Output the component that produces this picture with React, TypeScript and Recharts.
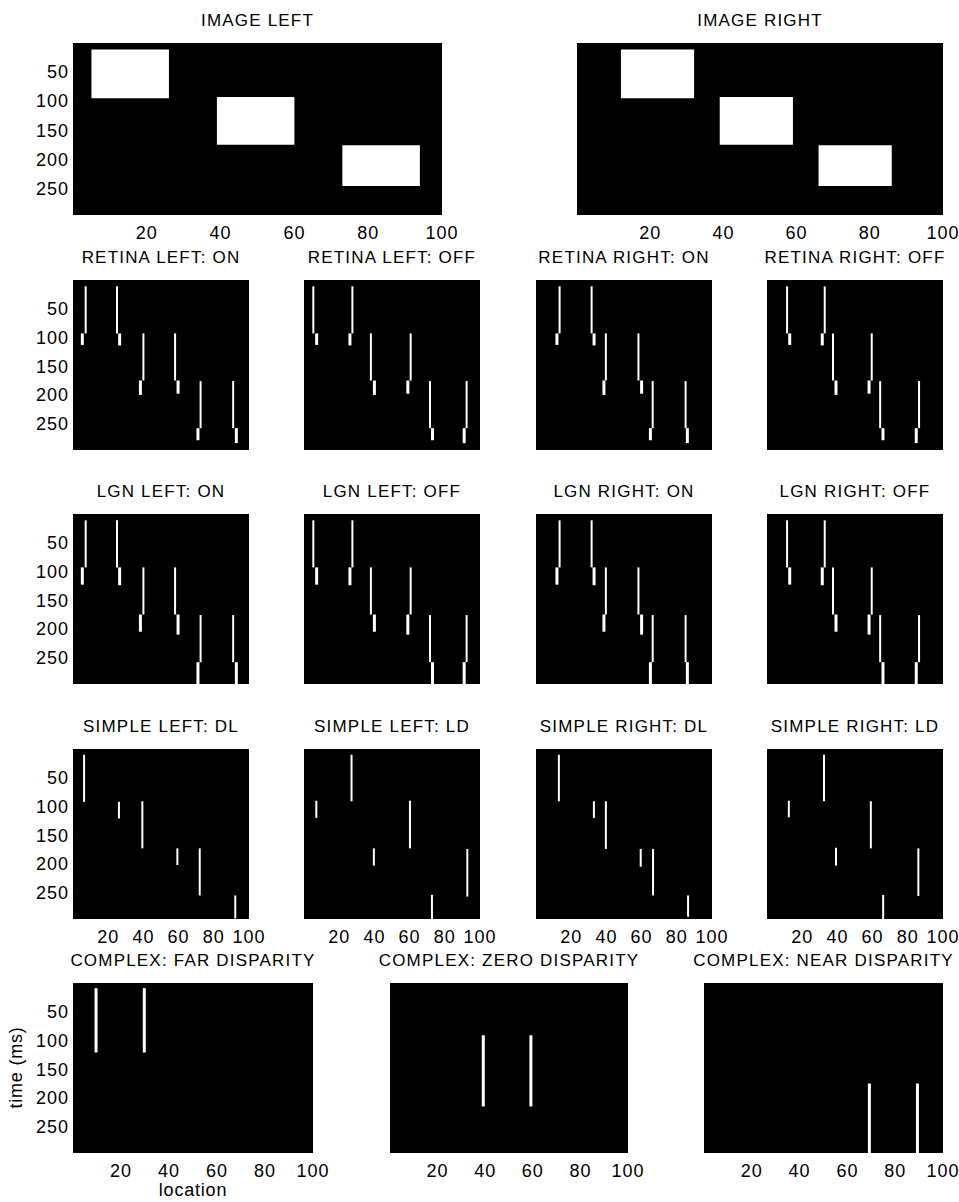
import React from 'react';
import { ScatterChart, XAxis, YAxis, CartesianGrid, ReferenceLine, ReferenceArea } from 'recharts';

// axis ticks
const locationTicks = [20, 40, 60, 80, 100];
const timeTicks = [50, 100, 150, 200, 250];

// stimulus: bright bars in each eye (location range, time range)
const imageLeftX0 = [5, 39, 73];
const imageLeftX1 = [26, 60, 94];
const imageRightX0 = [12, 39, 66];
const imageRightX1 = [32, 59, 86];
const imageT0 = [11, 93, 176];
const imageT1 = [95, 175, 246];

// edge responses: onset / offset and transient tail end (ms)
const edgeOnset = [11, 11, 93, 93, 176, 176];
const edgeOffset = [93, 93, 175, 175, 258, 258];
const retinaTailEnd = [113, 114, 200, 198, 279, 284];
const lgnTailEnd = [123, 124, 205, 210, 296, 296];

const leftOnX = [7.2, 25, 40, 58, 72.5, 91];
const leftOnTailX = [5.3, 26.5, 38.3, 59.7, 71, 92.8];
const leftOffX = [5.3, 27.5, 38, 60.6, 71.6, 92.4];
const leftOffTailX = [7.2, 26.1, 40, 59, 73, 91];
const rightOnX = [13.4, 31.6, 39.7, 58.2, 66.3, 85];
const rightOnTailX = [11.9, 33, 38.6, 60, 65, 86];
const rightOffX = [11.4, 32.8, 37.5, 59.5, 64.3, 86.4];
const rightOffTailX = [12.9, 31.4, 39.2, 58, 65.9, 84.8];

// simple cells
const simpleLeftDLX = [6.3, 26.1, 39.4, 59.3, 72, 92.2];
const simpleLeftDLT0 = [10, 92, 91, 173, 173, 255];
const simpleLeftDLT1 = [92, 121, 173, 202, 255, 295];
const simpleLeftLDX = [7, 27, 39.7, 60.2, 72.7, 92.8];
const simpleLeftLDT0 = [90, 10, 173, 90, 254, 174];
const simpleLeftLDT1 = [120, 91, 203, 173, 296, 257];
const simpleRightDLX = [13, 32.9, 39.7, 59.5, 66.5, 86.4];
const simpleRightDLT0 = [10, 91, 91, 174, 174, 255];
const simpleRightDLT1 = [91, 120, 174, 205, 255, 292];
const simpleRightLDX = [12.4, 32.4, 39.2, 59, 66, 86];
const simpleRightLDT0 = [90, 10, 172, 91, 254, 173];
const simpleRightLDT1 = [119, 91, 203, 173, 296, 256];

// complex cells
const complexFarX = [9.6, 29.7];
const complexFarT0 = [9, 9];
const complexFarT1 = [121, 121];
const complexZeroX = [39.2, 59.2];
const complexZeroT0 = [91, 91];
const complexZeroT1 = [215, 215];
const complexNearX = [69.2, 89.3];
const complexNearT0 = [175, 175];
const complexNearT1 = [296, 296];

type Seg = { x: number; t0: number; t1: number; w: number };
type Box = { x0: number; x1: number; t0: number; t1: number };

const edgeSegs = (xs: number[], tailXs: number[], tailEnd: number[]): Seg[] =>
  xs.flatMap((x, i) => [
    { x, t0: edgeOnset[i], t1: edgeOffset[i], w: 2 },
    { x: tailXs[i], t0: edgeOffset[i], t1: tailEnd[i], w: 3 },
  ]);

const barSegs = (xs: number[], t0: number[], t1: number[], w: number): Seg[] =>
  xs.map((x, i) => ({ x, t0: t0[i], t1: t1[i], w }));

const boxes = (x0: number[], x1: number[], t0: number[], t1: number[]): Box[] =>
  x0.map((x, i) => ({ x0: x, x1: x1[i], t0: t0[i], t1: t1[i] }));

const FONT = '"Liberation Sans", Arial, Helvetica, sans-serif';
const ML = 70;
const MT = 10;
const MB = 40;
const MR = 30;

interface PanelProps {
  title: string;
  left: number;
  top: number;
  width: number;
  height: number;
  segs?: Seg[];
  rects?: Box[];
  showX?: boolean;
  showY?: boolean;
}

const tickStyle = { fill: '#000', fontSize: 18, letterSpacing: 1, fontFamily: FONT };

const Panel: React.FC<PanelProps> = ({ title, left, top, width, height, segs = [], rects = [], showX, showY }) => (
  <>
    <div
      style={{
        position: 'absolute',
        left: left + width / 2 - 150,
        top: top - 32,
        width: 300,
        textAlign: 'center',
        fontSize: 17,
        letterSpacing: 1.2,
        fontFamily: FONT,
        color: '#000',
        whiteSpace: 'nowrap',
      }}
    >
      {title}
    </div>
    <div style={{ position: 'absolute', left: left - ML, top: top - MT }}>
      <ScatterChart
        width={ML + width + MR}
        height={MT + height + MB}
        margin={{ top: MT, right: MR, bottom: 0, left: 0 }}
      >
        <CartesianGrid fill="#000" fillOpacity={1} horizontal={false} vertical={false} stroke="none" />
        <XAxis
          type="number"
          dataKey="x"
          domain={[0, 100]}
          allowDataOverflow
          ticks={locationTicks}
          interval={0}
          height={MB}
          axisLine={false}
          tickLine={false}
          tickSize={0}
          tickMargin={11}
          tick={showX ? tickStyle : false}
        />
        <YAxis
          type="number"
          dataKey="t"
          domain={[0, 296]}
          allowDataOverflow
          reversed
          ticks={timeTicks}
          interval={0}
          width={ML}
          axisLine={false}
          tickLine={false}
          tickSize={0}
          tickMargin={4}
          tick={showY ? tickStyle : false}
        />
        {rects.map((r, i) => (
          <ReferenceArea
            key={`r${i}`}
            x1={r.x0}
            x2={r.x1}
            y1={r.t0}
            y2={r.t1}
            fill="#fff"
            fillOpacity={1}
            stroke="none"
            ifOverflow="hidden"
          />
        ))}
        {segs.map((s, i) => (
          <ReferenceLine
            key={`s${i}`}
            segment={[{ x: s.x, y: s.t0 }, { x: s.x, y: s.t1 }]}
            stroke="#fff"
            strokeWidth={s.w}
            ifOverflow="hidden"
          />
        ))}
      </ScatterChart>
    </div>
  </>
);

const COL4 = [73, 304, 536, 767];
const W4 = 176;
const H = 170;

export default function App() {
  return (
    <div
      style={{
        position: 'absolute',
        left: 0,
        top: 0,
        width: 959,
        height: 1202,
        background: '#fff',
        fontFamily: FONT,
        overflow: 'hidden',
      }}
    >
      <Panel title="IMAGE LEFT" left={73} top={43} width={369} height={172} showX showY
        rects={boxes(imageLeftX0, imageLeftX1, imageT0, imageT1)} />
      <Panel title="IMAGE RIGHT" left={577} top={43} width={366} height={172} showX
        rects={boxes(imageRightX0, imageRightX1, imageT0, imageT1)} />

      <Panel title="RETINA LEFT: ON" left={COL4[0]} top={280} width={W4} height={H} showY
        segs={edgeSegs(leftOnX, leftOnTailX, retinaTailEnd)} />
      <Panel title="RETINA LEFT: OFF" left={COL4[1]} top={280} width={W4} height={H}
        segs={edgeSegs(leftOffX, leftOffTailX, retinaTailEnd)} />
      <Panel title="RETINA RIGHT: ON" left={COL4[2]} top={280} width={W4} height={H}
        segs={edgeSegs(rightOnX, rightOnTailX, retinaTailEnd)} />
      <Panel title="RETINA RIGHT: OFF" left={COL4[3]} top={280} width={W4} height={H}
        segs={edgeSegs(rightOffX, rightOffTailX, retinaTailEnd)} />

      <Panel title="LGN LEFT: ON" left={COL4[0]} top={514} width={W4} height={H} showY
        segs={edgeSegs(leftOnX, leftOnTailX, lgnTailEnd)} />
      <Panel title="LGN LEFT: OFF" left={COL4[1]} top={514} width={W4} height={H}
        segs={edgeSegs(leftOffX, leftOffTailX, lgnTailEnd)} />
      <Panel title="LGN RIGHT: ON" left={COL4[2]} top={514} width={W4} height={H}
        segs={edgeSegs(rightOnX, rightOnTailX, lgnTailEnd)} />
      <Panel title="LGN RIGHT: OFF" left={COL4[3]} top={514} width={W4} height={H}
        segs={edgeSegs(rightOffX, rightOffTailX, lgnTailEnd)} />

      <Panel title="SIMPLE LEFT: DL" left={COL4[0]} top={749} width={W4} height={H} showX showY
        segs={barSegs(simpleLeftDLX, simpleLeftDLT0, simpleLeftDLT1, 2)} />
      <Panel title="SIMPLE LEFT: LD" left={COL4[1]} top={749} width={W4} height={H} showX
        segs={barSegs(simpleLeftLDX, simpleLeftLDT0, simpleLeftLDT1, 2)} />
      <Panel title="SIMPLE RIGHT: DL" left={COL4[2]} top={749} width={W4} height={H} showX
        segs={barSegs(simpleRightDLX, simpleRightDLT0, simpleRightDLT1, 2)} />
      <Panel title="SIMPLE RIGHT: LD" left={COL4[3]} top={749} width={W4} height={H} showX
        segs={barSegs(simpleRightLDX, simpleRightLDT0, simpleRightLDT1, 2)} />

      <Panel title="COMPLEX: FAR DISPARITY" left={73} top={983} width={240} height={H} showX showY
        segs={barSegs(complexFarX, complexFarT0, complexFarT1, 3)} />
      <Panel title="COMPLEX: ZERO DISPARITY" left={390} top={983} width={238} height={H} showX
        segs={barSegs(complexZeroX, complexZeroT0, complexZeroT1, 3)} />
      <Panel title="COMPLEX: NEAR DISPARITY" left={704} top={983} width={239} height={H} showX
        segs={barSegs(complexNearX, complexNearT0, complexNearT1, 3)} />

      <div
        style={{
          position: 'absolute',
          left: 16 - 60,
          top: 1068 - 11,
          width: 120,
          textAlign: 'center',
          fontSize: 18,
          letterSpacing: 0.8,
          transform: 'rotate(-90deg)',
          color: '#000',
        }}
      >
        time (ms)
      </div>
      <div
        style={{
          position: 'absolute',
          left: 193 - 60,
          top: 1180,
          width: 120,
          textAlign: 'center',
          fontSize: 18,
          letterSpacing: 0.8,
          color: '#000',
        }}
      >
        location
      </div>
    </div>
  );
}
